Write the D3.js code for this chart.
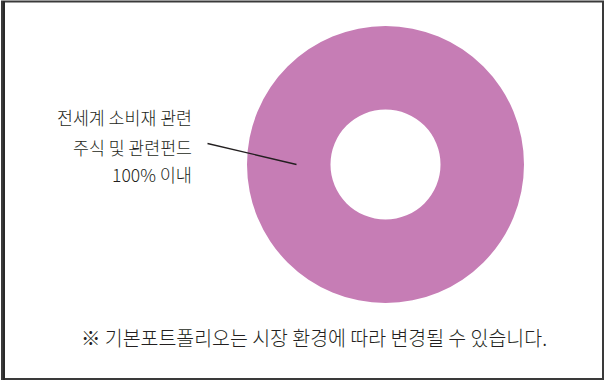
<!DOCTYPE html>
<html>
<head>
<meta charset="utf-8">
<script src="https://cdn.jsdelivr.net/npm/d3@7"></script>
<style>
  body { margin: 0; background: #fff; }
  text { font-family: "Noto Sans CJK KR", "Noto Sans", sans-serif; fill: #231f20; font-weight: 300; }
</style>
</head>
<body>
<script>
// data
var categories = ["전세계 소비재 관련 주식 및 관련펀드"];
var values = [100];
var labelLines = ["전세계 소비재 관련", "주식 및 관련펀드", "100% 이내"];
var note = "※ 기본포트폴리오는 시장 환경에 따라 변경될 수 있습니다.";

var width = 605, height = 381;

var svg = d3.select("body")
  .append("svg")
    .attr("width", width)
    .attr("height", height);

// frame
svg.append("rect")
  .attr("x", 2).attr("y", 1.5)
  .attr("width", 601).attr("height", 377.5)
  .attr("fill", "none")
  .attr("stroke", "#3a3a3a")
  .attr("stroke-width", 2);
svg.append("line")
  .attr("x1", 4).attr("x2", 4).attr("y1", 1).attr("y2", 380)
  .attr("stroke", "#2a2a2a").attr("stroke-width", 2);

// donut
var cx = 385.5, cy = 164.5;
var pie = d3.pie().sort(null);
var arc = d3.arc().innerRadius(55).outerRadius(138.5);

var g = svg.append("g")
  .attr("transform", "translate(" + cx + "," + cy + ")");

g.selectAll("path")
  .data(pie(values))
  .enter()
  .append("path")
    .attr("d", arc)
    .attr("fill", "#c67db5");

// leader line
svg.append("line")
  .attr("x1", 207.5).attr("y1", 143.5)
  .attr("x2", 296.5).attr("y2", 164.5)
  .attr("stroke", "#231f20")
  .attr("stroke-width", 1.3);

// label
var labelY = [125, 154.5, 181.5];
var labelW = [135, 119, 80];
svg.selectAll(".lbl")
  .data(labelLines)
  .enter()
  .append("text")
    .attr("class", "lbl")
    .attr("x", function(d, i) { return 192 - labelW[i]; })
    .attr("y", function(d, i) { return labelY[i]; })
    .attr("textLength", function(d, i) { return labelW[i]; })
    .attr("lengthAdjust", "spacingAndGlyphs")
    .style("font-size", "18px")
    .text(function(d) { return d; });

// footnote
svg.append("text")
  .attr("x", 81)
  .attr("y", 345.5)
  .attr("textLength", 466)
  .attr("lengthAdjust", "spacingAndGlyphs")
  .style("font-size", "20px")
  .text(note);
</script>
</body>
</html>
